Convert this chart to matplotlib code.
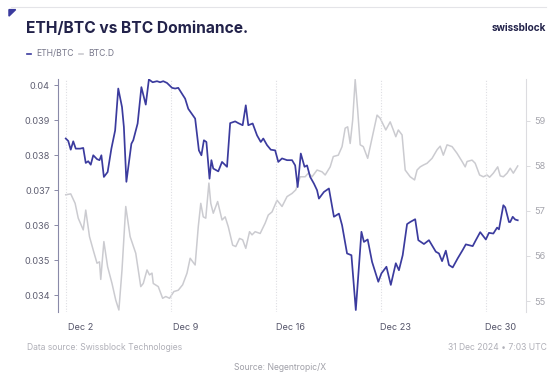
import pandas as pd
import matplotlib
matplotlib.use("Agg")
import matplotlib.pyplot as plt
import matplotlib.dates as mdates
from matplotlib.patches import Polygon

# hours since 2024-12-01 00:00 UTC
eth_hours = [0, 4, 8, 12, 16, 23, 28, 32, 36, 40, 44, 50, 54, 57, 61, 67, 73, 79, 84, 90,
             93, 97, 105, 108, 115, 121, 128, 133, 139, 146, 151, 156, 162, 170, 175, 180, 186, 191, 196, 207,
             213, 217, 221, 225, 230, 233, 236, 244, 250, 258, 263, 271, 276, 283, 288, 292, 299, 306, 312, 316,
             322, 328, 335, 340, 346, 354, 362, 367, 371, 376, 382, 386, 391, 397, 402, 405, 413, 421, 429, 437,
             442, 450, 457, 464, 473, 477, 483, 490, 500, 505, 513, 520, 528, 533, 539, 546, 551, 559, 564, 573,
             581, 592, 597, 602, 608, 613, 619, 627, 635, 640, 651, 656, 663, 672, 677, 684, 690, 693, 700, 703,
             709, 711, 715, 719, 723]
eth_btc = [0.03848, 0.03841, 0.03816, 0.03840, 0.03819, 0.03819, 0.03821, 0.03778, 0.03783, 0.03773,
           0.03800, 0.03789, 0.03786, 0.03800, 0.03738, 0.03752, 0.03819, 0.03871, 0.03991, 0.03938,
           0.03881, 0.03724, 0.03833, 0.03843, 0.03891, 0.03995, 0.03945, 0.04017, 0.04009, 0.04012,
           0.04009, 0.04012, 0.04007, 0.03993, 0.03991, 0.03993, 0.03976, 0.03962, 0.03933, 0.03905,
           0.03814, 0.03800, 0.03843, 0.03838, 0.03733, 0.03786, 0.03762, 0.03754, 0.03781, 0.03767,
           0.03892, 0.03897, 0.03892, 0.03886, 0.03943, 0.03886, 0.03891, 0.03857, 0.03838, 0.03848,
           0.03829, 0.03816, 0.03814, 0.03781, 0.03791, 0.03786, 0.03786, 0.03771, 0.03709, 0.03805,
           0.03767, 0.03771, 0.03738, 0.03719, 0.03700, 0.03676, 0.03695, 0.03705, 0.03624, 0.03633,
           0.03600, 0.03519, 0.03514, 0.03357, 0.03581, 0.03552, 0.03559, 0.03495, 0.03438, 0.03462,
           0.03481, 0.03429, 0.03491, 0.03471, 0.03514, 0.03603, 0.03609, 0.03617, 0.03557, 0.03546,
           0.03557, 0.03524, 0.03519, 0.03497, 0.03527, 0.03486, 0.03479, 0.03505, 0.03529, 0.03545,
           0.03540, 0.03557, 0.03580, 0.03559, 0.03578, 0.03576, 0.03593, 0.03588, 0.03657, 0.03651,
           0.03609, 0.03609, 0.03624, 0.03616, 0.03614]

btcd_hours = [0, 8, 15, 20, 28, 32, 38, 44, 50, 54, 56, 61, 67, 74, 80, 85, 90, 96, 103, 112,
              120, 124, 130, 134, 138, 140, 148, 155, 160, 166, 173, 180, 187, 194, 199, 207, 212, 216, 220, 224,
              229, 232, 236, 243, 250, 255, 260, 267, 272, 278, 283, 288, 294, 298, 303, 311, 319, 324, 330, 338,
              346, 354, 362, 368, 375, 383, 388, 394, 402, 410, 415, 423, 428, 436, 442, 447, 451, 455, 459, 463,
              467, 471, 476, 483, 490, 498, 503, 512, 519, 524, 528, 532, 538, 543, 551, 558, 562, 567, 572, 578,
              586, 594, 599, 604, 610, 618, 626, 634, 639, 642, 650, 655, 662, 668, 674, 678, 684, 691, 695, 700,
              706, 711, 716, 723]
btc_dominance = [57.36, 57.38, 57.17, 56.84, 56.58, 57.02, 56.43, 56.13, 55.84, 55.87,
                 55.48, 56.32, 55.76, 55.39, 55.02, 54.80, 55.69, 57.10, 56.43, 56.06,
                 55.32, 55.39, 55.69, 55.58, 55.62, 55.39, 55.32, 55.06, 55.10, 55.06,
                 55.21, 55.24, 55.36, 55.62, 55.95, 55.80, 56.65, 57.17, 56.87, 56.84,
                 57.62, 57.17, 56.95, 57.21, 56.80, 56.87, 56.65, 56.24, 56.21, 56.39,
                 56.36, 56.17, 56.54, 56.47, 56.54, 56.50, 56.73, 56.91, 56.98, 57.24,
                 57.10, 57.32, 57.39, 57.47, 57.76, 57.76, 57.84, 57.76, 57.91, 57.87,
                 57.80, 57.98, 58.21, 58.24, 58.43, 58.84, 58.87, 58.50, 59.02, 59.92,
                 59.24, 58.47, 58.43, 58.17, 58.62, 59.13, 59.06, 58.80, 58.98, 58.80,
                 58.65, 58.80, 58.69, 57.91, 57.76, 57.69, 57.91, 57.98, 58.02, 58.06,
                 58.17, 58.36, 58.44, 58.24, 58.47, 58.43, 58.28, 58.10, 57.98, 58.10,
                 58.13, 58.06, 57.80, 57.76, 57.80, 57.75, 57.84, 57.98, 57.78, 57.76,
                 57.84, 57.95, 57.84, 58.00]

eth_ticks = [0.034, 0.035, 0.036, 0.037, 0.038, 0.039, 0.04]
btcd_ticks = [55, 56, 57, 58, 59]

start = pd.Timestamp("2024-12-01")
eth_t = start + pd.to_timedelta(eth_hours, unit="h")
btcd_t = start + pd.to_timedelta(btcd_hours, unit="h")

NAVY = "#3b3b9e"
GREY = "#cbcbd0"
FONT = ["Inter", "DejaVu Sans"]
plt.rcParams["font.family"] = FONT

fig = plt.figure(figsize=(5.6, 3.84), dpi=100)
ax = fig.add_axes([0.104, 0.188, 0.835, 0.606])
ax2 = ax.twinx()

ax2.plot(btcd_t, btc_dominance, color=GREY, lw=1.1, zorder=1)
ax.plot(eth_t, eth_btc, color=NAVY, lw=1.25, zorder=3)
ax.set_zorder(ax2.get_zorder() + 1)
ax.patch.set_visible(False)

ax.set_xlim(start - pd.Timedelta(hours=12), start + pd.Timedelta(hours=736))
ax.set_ylim(0.03352, 0.04018)
ax2.set_ylim(54.76, 59.93)

ax.set_yticks(eth_ticks)
ax.set_yticklabels(["0.034", "0.035", "0.036", "0.037", "0.038", "0.039", "0.04"])
ax2.set_yticks(btcd_ticks)

ax.xaxis.set_major_locator(mdates.DayLocator(bymonthday=[2, 9, 16, 23, 30]))
ax.xaxis.set_major_formatter(mdates.DateFormatter("Dec %-d"))
ax.xaxis.set_minor_locator(mdates.DayLocator(bymonthday=[1, 8, 15, 22, 29]))
ax.grid(axis="x", which="minor", color="#dedee3", lw=0.8, ls=(0, (1, 1.5)))

for s in ["top", "bottom", "right"]:
    ax.spines[s].set_visible(False)
for s in ["top", "bottom", "left"]:
    ax2.spines[s].set_visible(False)
ax.spines["left"].set_color("#8a8aa8")
ax2.spines["right"].set_color("#dcdce0")

ax.tick_params(axis="y", labelsize=6.6, colors="#8a8aa8", labelcolor="#5f5f72",
               length=3, width=0.7, pad=3)
ax.tick_params(axis="x", which="both", length=0, labelsize=6.6, labelcolor="#55556a", pad=8)
ax2.tick_params(axis="y", labelsize=6.6, colors="#dcdce0", labelcolor="#a5a5ad",
                length=3, width=0.7, pad=3)

# header
fig.text(0.046, 0.925, "ETH/BTC vs BTC Dominance.", fontsize=11.2, fontweight="bold",
         color="#22224a", va="center")
fig.text(0.975, 0.928, "swissblock", fontsize=7.2, fontweight="bold", color="#22224a",
         ha="right", va="center")
fig.add_artist(plt.Line2D([0.02, 0.975], [0.982, 0.982], color="#e4e4e8", lw=0.8))
fig.add_artist(Polygon([[0.016, 0.975], [0.028, 0.975], [0.016, 0.958]], closed=True,
                       color=NAVY, transform=fig.transFigure))

# legend
fig.add_artist(plt.Line2D([0.048, 0.056], [0.86, 0.86], color=NAVY, lw=1.2))
fig.text(0.064, 0.86, "ETH/BTC", fontsize=6.2, color="#77778a", va="center")
fig.add_artist(plt.Line2D([0.141, 0.149], [0.86, 0.86], color=GREY, lw=1.2))
fig.text(0.158, 0.86, "BTC.D", fontsize=6.2, color="#77778a", va="center")

# footer
fig.text(0.048, 0.094, "Data source: Swissblock Technologies", fontsize=6.2,
         color="#b0b0b8", va="center")
fig.text(0.976, 0.094, "31 Dec 2024 \u2022 7:03 UTC", fontsize=6.2,
         color="#b0b0b8", va="center", ha="right")
fig.text(0.5, 0.042, "Source: Negentropic/X", fontsize=6.2, color="#a0a0a8",
         va="center", ha="center")

fig.savefig("out.png", dpi=100)
